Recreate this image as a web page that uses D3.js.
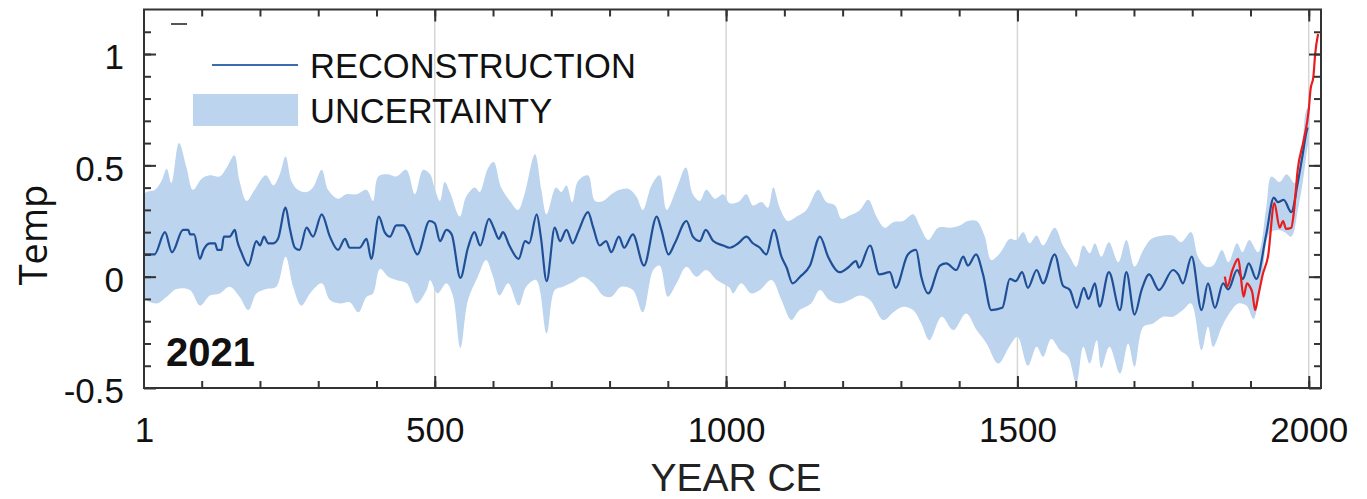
<!DOCTYPE html>
<html>
<head>
<meta charset="utf-8">
<script src="https://cdn.jsdelivr.net/npm/d3@7"></script>
<style>
  html, body { margin: 0; padding: 0; background: #fff; }
  svg { display: block; font-family: "Liberation Sans", Arial, sans-serif; }
</style>
</head>
<body>
<svg id="chart" width="1367" height="499"></svg>
<script>
// reconstruction (blue line)
const reconYears = [1, 19, 37, 49, 68, 77, 80, 87, 97, 103, 114, 123, 127, 134, 138, 148, 157, 161, 168, 180,
  194, 200, 207, 214, 223, 231, 244, 251, 260, 268, 280, 291, 306, 320, 334, 346, 354, 371, 383, 391,
  404, 414, 423, 434, 446, 454, 470, 491, 500, 509, 520, 529, 544, 557, 568, 578, 593, 601, 610, 617,
  628, 644, 655, 662, 675, 682, 692, 706, 715, 726, 737, 746, 763, 772, 783, 794, 803, 816, 825, 840,
  859, 881, 889, 901, 912, 932, 943, 955, 965, 978, 995, 1006, 1021, 1035, 1046, 1058, 1069, 1082, 1095, 1104,
  1114, 1127, 1144, 1161, 1175, 1195, 1209, 1223, 1228, 1247, 1263, 1281, 1291, 1312, 1326, 1335, 1347, 1367, 1378, 1395,
  1407, 1415, 1429, 1441, 1455, 1474, 1487, 1497, 1508, 1518, 1533, 1544, 1564, 1578, 1590, 1602, 1614, 1622, 1633, 1641,
  1657, 1676, 1687, 1701, 1713, 1726, 1743, 1767, 1776, 1784, 1799, 1816, 1827, 1839, 1853, 1862, 1877, 1887, 1897, 1910,
  1927, 1940, 1947, 1957, 1970, 1981, 1989, 1996, 1998];
const reconVals = [0.10, 0.10, 0.20, 0.11, 0.21, 0.21, 0.19, 0.19, 0.08, 0.12, 0.15, 0.15, 0.12, 0.12, 0.18, 0.18, 0.21, 0.16, 0.11, 0.05,
  0.16, 0.14, 0.18, 0.15, 0.15, 0.17, 0.31, 0.22, 0.13, 0.12, 0.22, 0.18, 0.28, 0.18, 0.12, 0.17, 0.13, 0.13, 0.17, 0.08,
  0.27, 0.20, 0.18, 0.23, 0.23, 0.20, 0.10, 0.25, 0.24, 0.16, 0.21, 0.19, -0.005, 0.13, 0.20, 0.14, 0.26, 0.22, 0.17, 0.20,
  0.14, 0.08, 0.16, 0.15, 0.28, 0.18, -0.02, 0.22, 0.16, 0.21, 0.15, 0.20, 0.29, 0.22, 0.14, 0.16, 0.11, 0.18, 0.13, 0.19,
  0.05, 0.27, 0.21, 0.10, 0.15, 0.25, 0.18, 0.16, 0.21, 0.16, 0.14, 0.13, 0.15, 0.18, 0.15, 0.13, 0.10, 0.21, 0.09, 0.04,
  -0.03, 0.0, 0.05, 0.18, 0.09, 0.02, 0.04, 0.07, 0.04, 0.14, 0.01, 0.02, -0.05, 0.10, 0.12, 0.0, -0.075, 0.05, 0.06, 0.03,
  0.09, 0.05, 0.10, 0.01, -0.15, -0.14, -0.01, -0.02, 0.02, -0.05, 0.03, -0.03, 0.10, -0.04, -0.06, -0.14, -0.05, -0.10, -0.03, -0.135,
  0.02, -0.15, 0.02, -0.17, -0.06, 0.01, -0.06, 0.03, 0.01, -0.03, 0.09, -0.15, -0.03, -0.14, -0.03, -0.057, 0.03, -0.01, 0.06, -0.01,
  0.19, 0.355, 0.335, 0.345, 0.29, 0.42, 0.54, 0.65, 0.67];

// instrumental record (red line)
const instYears = [1856, 1860, 1869, 1879, 1883, 1888, 1894, 1899, 1903, 1908, 1913, 1921, 1930, 1941, 1950, 1956, 1961, 1970, 1974, 1981,
  1991, 2000, 2003, 2008, 2011, 2016];
const instVals = [0.0, -0.045, 0.03, 0.08, 0.01, -0.09, -0.03, -0.045, -0.07, -0.15, -0.09, 0.01, 0.09, 0.33, 0.22, 0.25, 0.215, 0.22, 0.28, 0.48,
  0.61, 0.75, 0.84, 0.90, 1.00, 1.09];

// uncertainty envelope, upper edge
const upperYears = [1, 20, 31, 40, 48, 61, 74, 85, 100, 114, 131, 143, 156, 165, 177, 191, 210, 223, 234, 244,
  254, 265, 280, 291, 306, 317, 334, 348, 366, 383, 394, 403, 420, 434, 451, 466, 480, 492, 500, 509,
  517, 526, 543, 554, 569, 577, 591, 601, 614, 629, 643, 654, 672, 683, 692, 708, 717, 726, 736, 746,
  763, 775, 789, 803, 817, 832, 846, 857, 872, 886, 898, 915, 931, 943, 955, 966, 981, 995, 1006, 1021,
  1035, 1046, 1061, 1072, 1081, 1092, 1106, 1121, 1138, 1158, 1172, 1187, 1198, 1212, 1230, 1244, 1258, 1272, 1287, 1304,
  1321, 1332, 1347, 1364, 1384, 1401, 1415, 1430, 1444, 1455, 1470, 1487, 1498, 1510, 1521, 1533, 1544, 1564, 1578, 1590,
  1601, 1613, 1624, 1633, 1644, 1657, 1673, 1687, 1701, 1716, 1730, 1750, 1767, 1781, 1798, 1810, 1824, 1836, 1851, 1862,
  1877, 1886, 1898, 1913, 1927, 1936, 1950, 1962, 1976, 1988, 1996, 2000];
const upperVals = [0.37, 0.39, 0.43, 0.485, 0.42, 0.60, 0.49, 0.39, 0.44, 0.455, 0.45, 0.49, 0.545, 0.43, 0.34, 0.39, 0.455, 0.41, 0.46, 0.54,
  0.43, 0.39, 0.38, 0.40, 0.48, 0.39, 0.35, 0.37, 0.37, 0.39, 0.34, 0.45, 0.46, 0.45, 0.48, 0.37, 0.48, 0.46, 0.395, 0.34,
  0.425, 0.38, 0.27, 0.36, 0.40, 0.38, 0.485, 0.515, 0.40, 0.34, 0.30, 0.37, 0.55, 0.39, 0.28, 0.40, 0.38, 0.41, 0.335, 0.43,
  0.455, 0.34, 0.34, 0.37, 0.39, 0.395, 0.36, 0.30, 0.41, 0.455, 0.30, 0.395, 0.49, 0.37, 0.34, 0.39, 0.35, 0.37, 0.33, 0.335,
  0.37, 0.32, 0.335, 0.31, 0.40, 0.31, 0.25, 0.27, 0.30, 0.39, 0.335, 0.32, 0.26, 0.275, 0.30, 0.345, 0.27, 0.22, 0.245, 0.25,
  0.28, 0.23, 0.165, 0.22, 0.22, 0.23, 0.25, 0.25, 0.18, 0.075, 0.105, 0.17, 0.165, 0.20, 0.15, 0.185, 0.14, 0.22, 0.14, 0.09,
  0.045, 0.14, 0.105, 0.15, 0.09, 0.155, 0.065, 0.165, 0.045, 0.12, 0.17, 0.185, 0.185, 0.155, 0.20, 0.09, 0.045, 0.05, 0.12, 0.065,
  0.15, 0.11, 0.165, 0.11, 0.31, 0.45, 0.425, 0.46, 0.42, 0.57, 0.75, 0.76];

// uncertainty envelope, lower edge
const lowerYears = [1, 22, 40, 57, 80, 97, 114, 131, 148, 165, 180, 194, 211, 228, 244, 257, 271, 286, 306, 320,
  337, 354, 369, 383, 394, 406, 420, 434, 452, 469, 486, 492, 505, 520, 531, 544, 557, 574, 588, 600,
  611, 626, 644, 657, 674, 692, 706, 720, 737, 754, 772, 789, 803, 820, 840, 857, 875, 886, 900, 915,
  932, 949, 966, 984, 1006, 1012, 1026, 1043, 1058, 1078, 1095, 1112, 1126, 1146, 1161, 1177, 1195, 1212, 1230, 1247,
  1270, 1287, 1304, 1321, 1335, 1349, 1370, 1390, 1412, 1430, 1447, 1467, 1487, 1500, 1518, 1533, 1544, 1558, 1573, 1587,
  1601, 1613, 1624, 1636, 1644, 1658, 1676, 1690, 1701, 1716, 1733, 1750, 1767, 1784, 1798, 1816, 1827, 1836, 1851, 1865,
  1879, 1893, 1905, 1919, 1933, 1947, 1959, 1970, 1982, 1990, 1996, 2000];
const lowerVals = [-0.09, -0.12, -0.09, -0.055, -0.06, -0.13, -0.085, -0.075, -0.045, -0.09, -0.15, -0.075, -0.055, -0.045, 0.09, -0.045, -0.13, -0.075, -0.03, -0.105,
  -0.12, -0.115, -0.16, -0.09, -0.075, 0.035, 0.0, -0.015, -0.03, -0.12, -0.06, -0.016, -0.075, -0.03, -0.085, -0.32, -0.105, 0.0, 0.075, 0.0,
  -0.085, -0.03, -0.13, -0.045, -0.015, -0.255, -0.06, -0.045, -0.025, 0.0, -0.03, -0.085, -0.09, -0.045, -0.06, -0.16, 0.03, 0.05, -0.09, -0.03,
  0.045, 0.0, 0.03, -0.015, -0.05, -0.075, -0.03, -0.075, -0.06, -0.015, -0.105, -0.195, -0.15, -0.12, -0.06, -0.105, -0.12, -0.105, -0.085, -0.105,
  -0.195, -0.16, -0.135, -0.15, -0.21, -0.285, -0.18, -0.24, -0.165, -0.24, -0.30, -0.39, -0.31, -0.27, -0.40, -0.315, -0.36, -0.28, -0.33, -0.36,
  -0.48, -0.315, -0.39, -0.285, -0.41, -0.315, -0.435, -0.30, -0.405, -0.225, -0.21, -0.18, -0.18, -0.15, -0.12, -0.33, -0.225, -0.315, -0.225, -0.16,
  -0.12, -0.13, -0.19, -0.015, 0.195, 0.21, 0.20, 0.18, 0.31, 0.43, 0.55, 0.62];

const xMinorTicks = d3.range(100, 2001, 100);
const xMajorTicks = [500, 1000, 1500, 2000];
const xLabelTicks = [1, 500, 1000, 1500, 2000];
const yMinorTicks = d3.range(-4, 12).map((i) => +(i / 10).toFixed(1));
const yMajorTicks = [-0.5, 0, 0.5, 1];
const yLabels = ["-0.5", "0", "0.5", "1"];

const svg = d3.select("#chart");
const plotLeft = 144, plotRight = 1321, plotTop = 9.5, plotBottom = 388;

const x = d3.scaleLinear().domain([1, 2021]).range([plotLeft, plotRight]);
const y = d3.scaleLinear().domain([-0.5, 1.2]).range([plotBottom, plotTop]);

const colBand = "#bcd4ed";
const colLine = "#1f4f97";
const colRed = "#ea1c1c";
const colAxis = "#333";

svg.append("clipPath").attr("id", "plot-clip")
  .append("rect").attr("x", plotLeft).attr("y", plotTop)
  .attr("width", plotRight - plotLeft).attr("height", plotBottom - plotTop);

// gridlines
svg.append("g").selectAll("line").data(xMajorTicks).enter().append("line")
  .attr("x1", (d) => x(d)).attr("x2", (d) => x(d))
  .attr("y1", plotTop).attr("y2", plotBottom)
  .attr("stroke", "#d6d6d6").attr("stroke-width", 1.5);

const plot = svg.append("g").attr("clip-path", "url(#plot-clip)");

// band as closed polygon: upper edge forward, lower edge back
const bandPts = upperYears.map((yr, i) => [yr, upperVals[i]])
  .concat(lowerYears.map((yr, i) => [yr, lowerVals[i]]).reverse());
const bandGen = d3.line()
  .x((d) => x(d[0])).y((d) => y(d[1]))
  .curve(d3.curveCatmullRomClosed.alpha(0.5));
plot.append("path").attr("d", bandGen(bandPts))
  .attr("fill", colBand).attr("stroke", "none");

const lineGen = d3.line()
  .x((d) => x(d[0])).y((d) => y(d[1]))
  .curve(d3.curveMonotoneX);

plot.append("path")
  .attr("d", lineGen(reconYears.map((yr, i) => [yr, reconVals[i]])))
  .attr("fill", "none").attr("stroke", colLine).attr("stroke-width", 2.2)
  .attr("stroke-linejoin", "round");

plot.append("path")
  .attr("d", lineGen(instYears.map((yr, i) => [yr, instVals[i]])))
  .attr("fill", "none").attr("stroke", colRed).attr("stroke-width", 2.2)
  .attr("stroke-linejoin", "round");

// axes: inward ticks on all four sides
function styleAxis(g) {
  g.select(".domain").remove();
  g.selectAll(".tick line").attr("stroke", colAxis).attr("stroke-width", 2);
}
svg.append("g").attr("transform", `translate(0,${plotBottom})`)
  .call(d3.axisBottom(x).tickValues(xMinorTicks).tickSize(-7).tickFormat(""))
  .call(styleAxis);
svg.append("g").attr("transform", `translate(0,${plotBottom})`)
  .call(d3.axisBottom(x).tickValues(xMajorTicks).tickSize(-12).tickFormat(""))
  .call(styleAxis);
svg.append("g").attr("transform", `translate(0,${plotTop})`)
  .call(d3.axisTop(x).tickValues(xMinorTicks).tickSize(-7).tickFormat(""))
  .call(styleAxis);
svg.append("g").attr("transform", `translate(0,${plotTop})`)
  .call(d3.axisTop(x).tickValues(xMajorTicks).tickSize(-12).tickFormat(""))
  .call(styleAxis);
svg.append("g").attr("transform", `translate(${plotLeft},0)`)
  .call(d3.axisLeft(y).tickValues(yMinorTicks).tickSize(-7).tickFormat(""))
  .call(styleAxis);
svg.append("g").attr("transform", `translate(${plotLeft},0)`)
  .call(d3.axisLeft(y).tickValues(yMajorTicks).tickSize(-12).tickFormat(""))
  .call(styleAxis);
svg.append("g").attr("transform", `translate(${plotRight},0)`)
  .call(d3.axisRight(y).tickValues(yMinorTicks).tickSize(-7).tickFormat(""))
  .call(styleAxis);
svg.append("g").attr("transform", `translate(${plotRight},0)`)
  .call(d3.axisRight(y).tickValues(yMajorTicks).tickSize(-12).tickFormat(""))
  .call(styleAxis);

// tick labels
const xLab = svg.append("g").attr("transform", `translate(0,${plotBottom})`)
  .call(d3.axisBottom(x).tickValues(xLabelTicks).tickSize(0).tickPadding(29)
    .tickFormat(d3.format("d")));
xLab.select(".domain").remove();
xLab.selectAll("text").attr("font-size", 35).attr("fill", "#111")
  .attr("font-family", "Liberation Sans, Arial, sans-serif");

const yLab = svg.append("g").attr("transform", `translate(${plotLeft},0)`)
  .call(d3.axisLeft(y).tickValues(yMajorTicks).tickSize(0).tickPadding(20)
    .tickFormat((d, i) => yLabels[i]));
yLab.select(".domain").remove();
yLab.selectAll("text").attr("font-size", 35).attr("fill", "#111").attr("dy", "0.42em")
  .attr("font-family", "Liberation Sans, Arial, sans-serif");

// frame
svg.append("rect").attr("x", plotLeft).attr("y", plotTop)
  .attr("width", plotRight - plotLeft).attr("height", plotBottom - plotTop)
  .attr("fill", "none").attr("stroke", colAxis).attr("stroke-width", 2);

// small mark in the top-left corner of the original
svg.append("line").attr("x1", 171).attr("x2", 187).attr("y1", 24).attr("y2", 24)
  .attr("stroke", "#555").attr("stroke-width", 2);

// legend
svg.append("line").attr("x1", 212).attr("x2", 298).attr("y1", 65).attr("y2", 65)
  .attr("stroke", "#3c6cb0").attr("stroke-width", 2.2);
svg.append("rect").attr("x", 193).attr("y", 94).attr("width", 105).attr("height", 32)
  .attr("fill", colBand);
svg.append("text").attr("x", 310).attr("y", 78).attr("font-size", 34.5).attr("fill", "#111")
  .text("RECONSTRUCTION");
svg.append("text").attr("x", 310).attr("y", 123).attr("font-size", 34.5).attr("fill", "#111")
  .text("UNCERTAINTY");

// year stamp
svg.append("text").attr("x", 166).attr("y", 366).attr("font-size", 40)
  .attr("font-weight", "bold").attr("fill", "#111").text("2021");

// axis titles
svg.append("text").attr("x", 736).attr("y", 491).attr("text-anchor", "middle")
  .attr("font-size", 39).attr("fill", "#222").text("YEAR CE");
svg.append("text")
  .attr("transform", "translate(47,235) rotate(-90)")
  .attr("text-anchor", "middle").attr("font-size", 38)
  .attr("font-family", "Open Sans, sans-serif").attr("fill", "#111")
  .text("Temp");
</script>
</body>
</html>
